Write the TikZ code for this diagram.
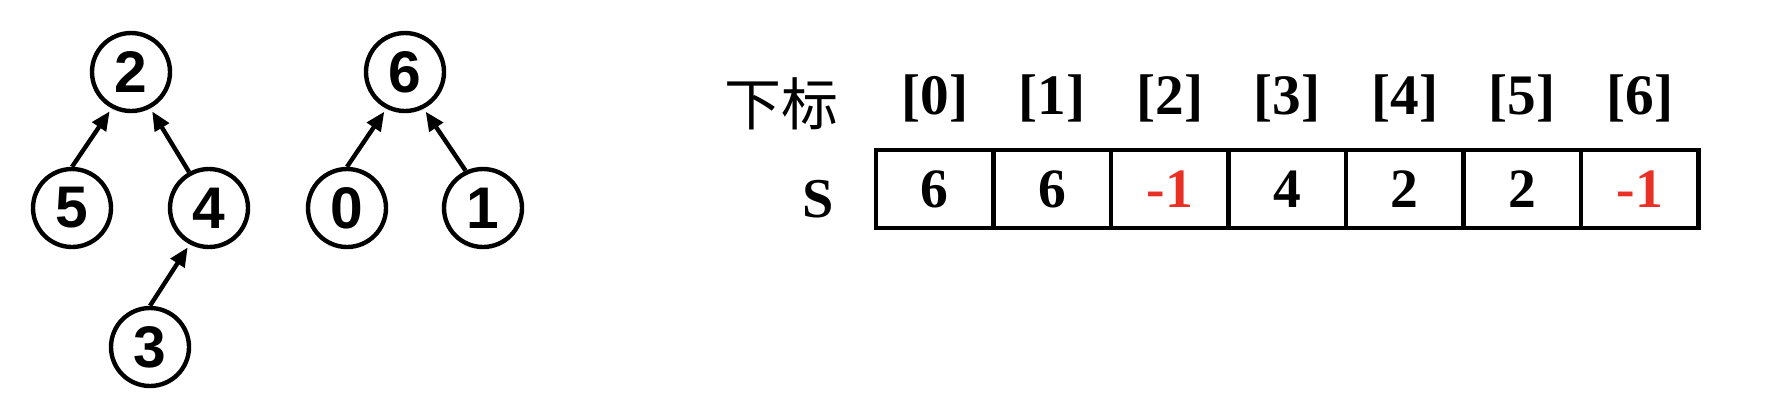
\documentclass[tikz,border=0pt]{standalone}
\usepackage{fontspec}
\setmainfont{Liberation Serif}
\setsansfont{Liberation Sans}
\newfontfamily\cjk{Noto Sans CJK SC}
\usetikzlibrary{arrows.meta}
\definecolor{minusred}{RGB}{232,48,36}
\begin{document}
\begin{tikzpicture}[
    vert/.style={circle, draw, line width=1.25pt, minimum size=0.78cm, inner sep=0pt,
      font=\sffamily\bfseries\fontsize{16.7}{18}\selectfont},
    arr/.style={-{Triangle[length=0.19cm,width=0.16cm]}, line width=1.25pt, shorten >=1pt},
    cell/.style={draw, line width=1.25pt, minimum width=1.175cm, minimum height=0.78cm,
      inner sep=0pt, font=\bfseries\fontsize{15.8}{18}\selectfont},
    idx/.style={font=\bfseries\fontsize{16.3}{18}\selectfont}
  ]
    \useasboundingbox (0,0) rectangle (17.76,4.12);
    % forest
    \node[vert] (n2) at (1.31,3.40) {2};
    \node[vert] (n6) at (4.05,3.40) {6};
    \node[vert] (n5) at (0.72,2.04) {5};
    \node[vert] (n4) at (2.09,2.04) {4};
    \node[vert] (n0) at (3.47,2.04) {0};
    \node[vert] (n1) at (4.83,2.04) {1};
    \node[vert] (n3) at (1.50,0.65) {3};
    \draw[arr] (n5.north) -- (n2.242);
    \draw[arr] (n4.119) -- (n2.298);
    \draw[arr] (n3.north) -- (n4.242);
    \draw[arr] (n0.north) -- (n6.243);
    \draw[arr] (n1.115) -- (n6.297);
    % array S
    \node[font=\cjk\fontsize{16.2}{18}\selectfont] (sub) at (7.81,3.08) {下标};
    \node[font=\bfseries\fontsize{16}{18}\selectfont, anchor=base] (lbl) at (8.18,1.95) {S};
    \foreach \v [count=\i from 0] in {6,6,{\color{minusred}-1},4,2,2,{\color{minusred}-1}} {
      \node[idx] (idx\i) at (9.3475+1.175*\i,3.14) {[\i]};
      \node[cell] (cell\i) at (9.3475+1.175*\i,2.23) {\v};
    }
  \end{tikzpicture}
\end{document}
